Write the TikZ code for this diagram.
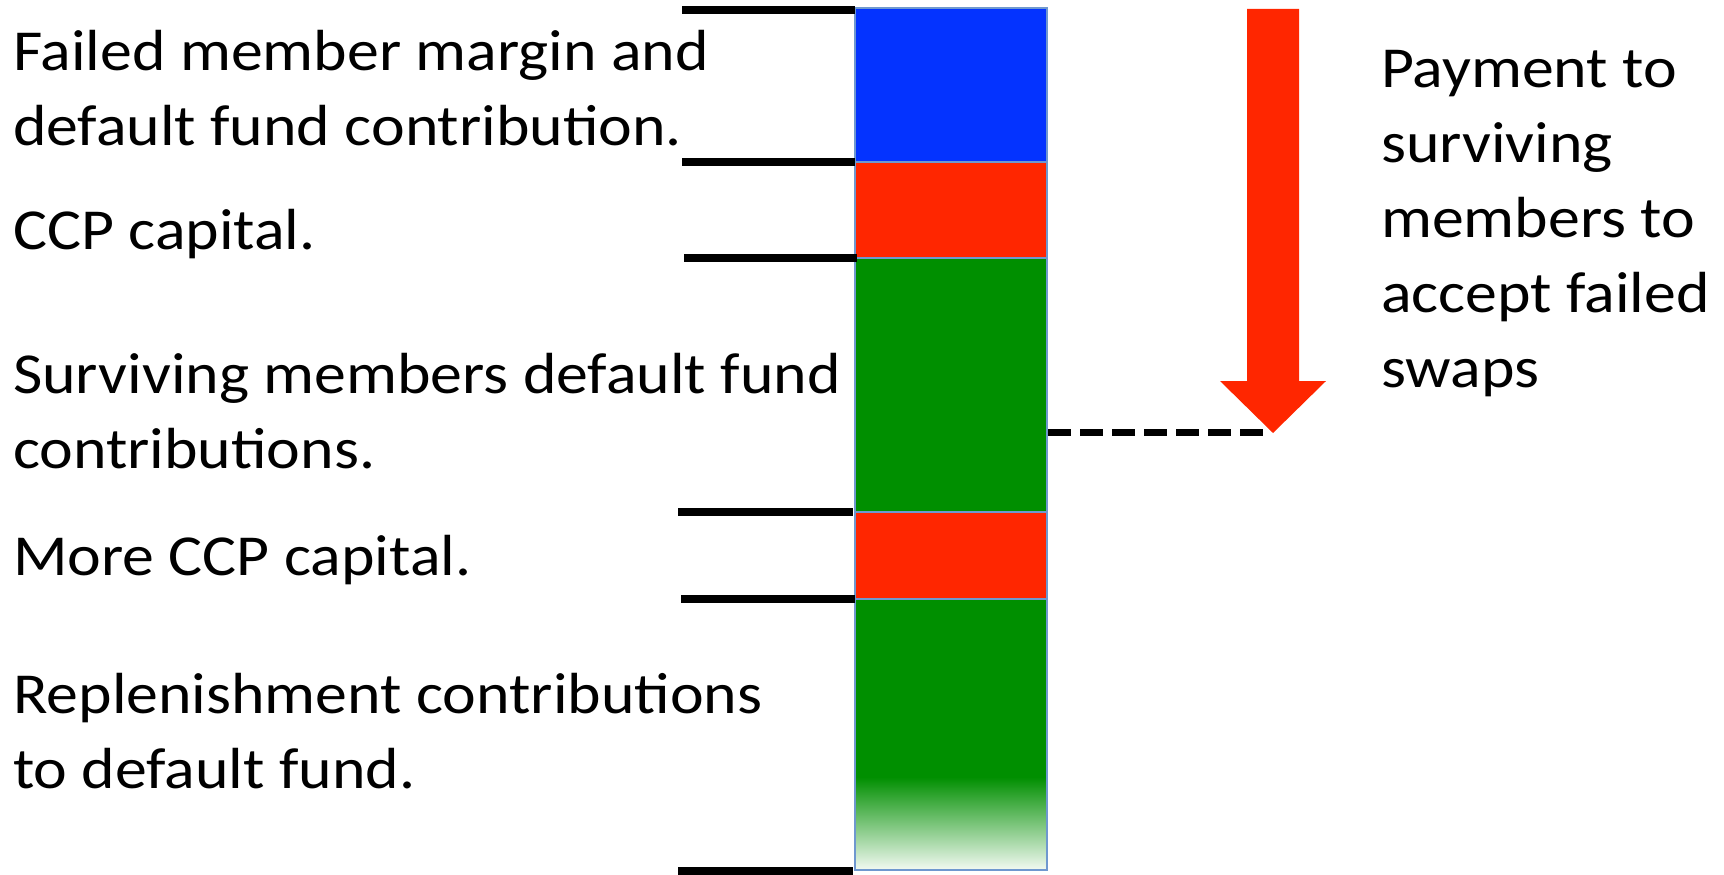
\documentclass[tikz,border=0pt]{standalone}
\usepackage{fontspec}
\setmainfont[FakeStretch=1.1]{Carlito}
\definecolor{cblue}{HTML}{0433FF}
\definecolor{cred}{HTML}{FF2600}
\definecolor{cgreen}{HTML}{008F00}
\definecolor{cedge}{HTML}{6F98CF}
\begin{document}
\begin{tikzpicture}[x=1pt,y=-1pt,
  lbl/.style={anchor=base west,inner sep=0pt,align=left,font=\fontsize{58}{75}\selectfont},
  tick/.style={line width=8pt,black},
  seg/.style={draw=cedge,line width=1.5pt}]
\useasboundingbox (0,0) rectangle (1724,875);
% bar segments
\fill[cblue] (855,8) rectangle (1047,162);
\fill[cred] (855,162) rectangle (1047,258);
\fill[cgreen] (855,258) rectangle (1047,512);
\fill[cred] (855,512) rectangle (1047,599);
\fill[cgreen] (855,599) rectangle (1047,777);
\shade[top color=cgreen,bottom color=cgreen!5] (855,777) rectangle (1047,870);
\draw[seg] (855,8) rectangle (1047,870);
\foreach \yy in {162,258,512,599} \draw[seg] (855,\yy) -- (1047,\yy);
% tick lines
\coordinate (t1a) at (682,10);  \coordinate (t1b) at (855,10);
\coordinate (t2a) at (682,162); \coordinate (t2b) at (855,162);
\coordinate (t3a) at (684,258); \coordinate (t3b) at (857,258);
\coordinate (t4a) at (678,512); \coordinate (t4b) at (853,512);
\coordinate (t5a) at (681,599); \coordinate (t5b) at (855,599);
\coordinate (t6a) at (678,871); \coordinate (t6b) at (853,871);
\foreach \i in {1,...,6} \draw[tick] (t\i a) -- (t\i b);
% arrow
\fill[cred] (1247,9) -- (1299,9) -- (1299,381) -- (1326,381) -- (1273,433) -- (1220,381) -- (1247,381) -- cycle;
\coordinate (tip) at (1265,432);
\coordinate (barR) at (1048,432);
\draw[line width=7pt,dash pattern=on 23pt off 9pt] (barR) -- (tip);
% labels (anchored at the baseline of the last line)
\node[lbl] (l1) at (13,145) {Failed member margin and\\default fund contribution.};
\node[lbl] (l2) at (13,249) {CCP capital.};
\node[lbl] (l3) at (13,468) {Surviving members default fund\\contributions.};
\node[lbl] (l4) at (13,575) {More CCP capital.};
\node[lbl] (l5) at (13,788) {Replenishment contributions\\to default fund.};
\node[lbl] (r1) at (1381,387) {Payment to\\surviving\\members to\\accept failed\\swaps};
\end{tikzpicture}
\end{document}
